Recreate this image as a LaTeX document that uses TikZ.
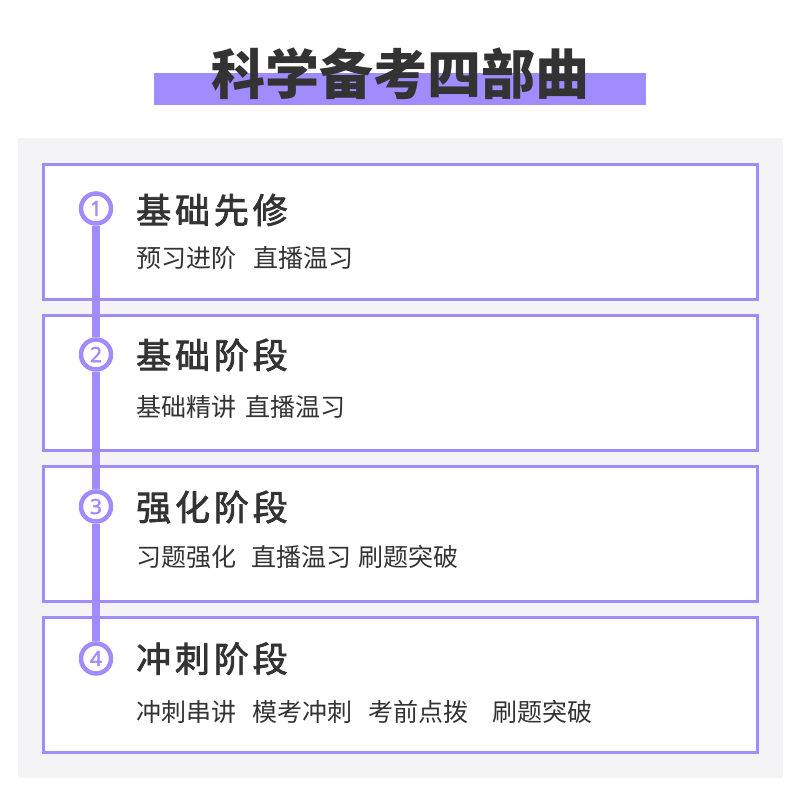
\documentclass[tikz,border=0pt]{standalone}
\usepackage{fontspec}
\newfontfamily\cjk{Noto Sans CJK SC}
\newfontfamily\cjkhd[FakeBold=2.2,LetterSpace=11]{Noto Sans CJK SC}
\newfontfamily\numfont[FakeBold=1.8]{Noto Sans}
\definecolor{pp}{HTML}{A08CFF}
\definecolor{ink}{HTML}{333333}
\definecolor{bgc}{HTML}{F4F4F7}
\tikzset{
  stagebox/.style={draw=pp, line width=3pt, fill=white, minimum width=714pt, minimum height=135pt, inner sep=0pt, outer sep=0pt, anchor=north west},
  numcirc/.style={circle, draw=pp, line width=4.5pt, fill=white, minimum size=30pt, inner sep=0pt, text=pp, font=\numfont\fontsize{21}{21}\selectfont},
  headtxt/.style={anchor=base west, inner sep=0pt, text=ink, font=\cjkhd\fontsize{35}{35}\selectfont},
  subtxt/.style={anchor=base west, inner sep=0pt, text=ink, font=\cjk\fontsize{25}{25}\selectfont},
  spine/.style={draw=pp, line width=7.5pt}
}
\begin{document}
\begin{tikzpicture}[x=1pt,y=-1pt]
\useasboundingbox (0,0) rectangle (800,800);
\fill[white] (0,0) rectangle (800,800);
\fill[pp] (154,73) rectangle (646,105);
\node[anchor=base, inner sep=0pt, text=ink, font=\cjk\bfseries\fontsize{54}{54}\selectfont] (title) at (400,94.5) {科学备考四部曲};
\fill[bgc] (18,138) rectangle (783,778);
\node[stagebox] (b1) at (43,164) {};
\node[stagebox] (b2) at (43,315) {};
\node[stagebox] (b3) at (43,466) {};
\node[stagebox] (b4) at (43,617.5) {};
\node[numcirc] (c1) at (96,208.5) {1};
\node[numcirc] (c2) at (96,354.5) {2};
\node[numcirc] (c3) at (96,506.5) {3};
\node[numcirc] (c4) at (96,658.5) {4};
\draw[spine] (c1) -- (c2) (c2) -- (c3) (c3) -- (c4);
\node[headtxt] (h1) at (136,223.3) {基础先修};
\node[headtxt] (h2) at (136,368.3) {基础阶段};
\node[headtxt] (h3) at (136,520.3) {强化阶段};
\node[headtxt] (h4) at (136,672) {冲刺阶段};
\node[subtxt] (s1) at (136,267) {预习进阶\hspace{17pt}直播温习};
\node[subtxt] (s2) at (136,416) {基础精讲\hspace{9pt}直播温习};
\node[subtxt] (s3) at (136,566.5) {习题强化\hspace{15pt}直播温习\hspace{7pt}刷题突破};
\node[subtxt] (s4) at (136,721.5) {冲刺串讲\hspace{16pt}模考冲刺\hspace{16pt}考前点拨\hspace{24pt}刷题突破};
\end{tikzpicture}
\end{document}
